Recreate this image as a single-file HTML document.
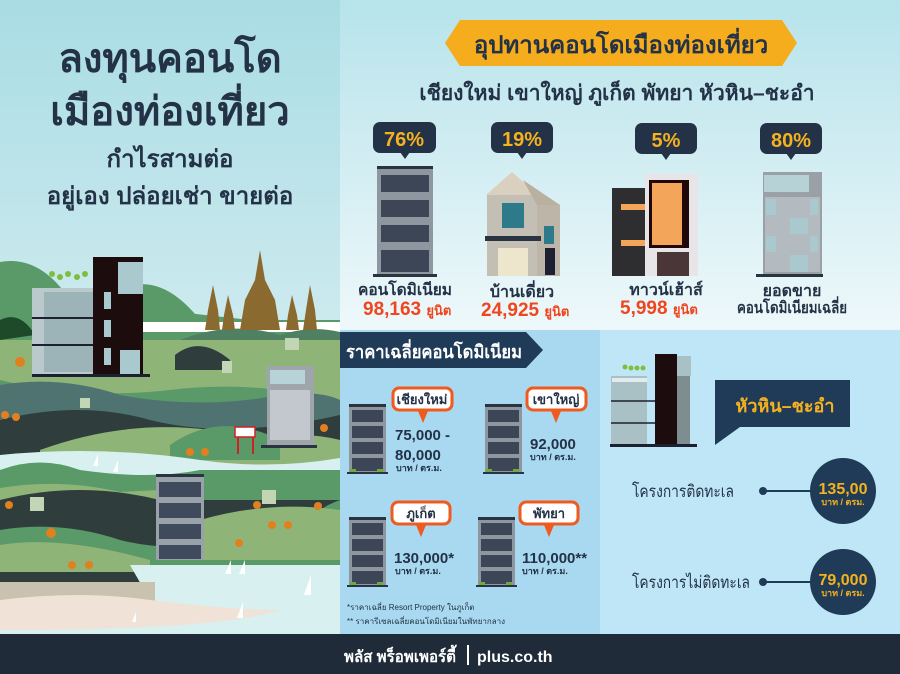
<!DOCTYPE html>
<html><head><meta charset="utf-8"><style>
html,body{margin:0;padding:0;width:900px;height:674px;overflow:hidden}
svg{display:block}
text{font-family:"Liberation Sans","DejaVu Sans",sans-serif;font-weight:bold}
</style></head><body>
<svg width="900" height="674" viewBox="0 0 900 674" xmlns="http://www.w3.org/2000/svg">
<defs>
<linearGradient id="gl" x1="0" y1="0" x2="0" y2="1"><stop offset="0" stop-color="#a9dce4"/><stop offset="1" stop-color="#eef8f9"/></linearGradient>
<linearGradient id="gr" x1="0" y1="0" x2="0" y2="1"><stop offset="0" stop-color="#b7e3eb"/><stop offset="1" stop-color="#eef8fa"/></linearGradient>
<g id="condo">
<rect x="0" y="0" width="37" height="70" fill="#8e969f"/><rect x="0" y="0" width="37" height="3" fill="#2a3440"/>
<rect x="3" y="6" width="31" height="12" fill="#3c4657"/><rect x="3" y="22" width="31" height="12" fill="#3c4657"/>
<rect x="3" y="38" width="31" height="12" fill="#3c4657"/><rect x="3" y="54" width="31" height="13" fill="#3c4657"/>
<rect x="-2" y="68" width="41" height="2" fill="#2a3440"/><rect x="1" y="65" width="6" height="3" fill="#6cab3c"/><rect x="28" y="65" width="6" height="3" fill="#6cab3c"/>
</g>
</defs>
<rect x="0" y="0" width="340" height="634" fill="url(#gl)"/>
<rect x="340" y="0" width="560" height="330" fill="url(#gr)"/>
<rect x="340" y="330" width="260" height="304" fill="#a8d9f0"/>
<rect x="600" y="330" width="300" height="304" fill="#bfe6f6"/>
<rect x="0" y="634" width="900" height="40" fill="#1f2b39"/>

<g fill="#233246" text-anchor="middle">
<text x="170" y="72" font-size="40">ลงทุนคอนโด</text>
<text x="170" y="125" font-size="40">เมืองท่องเที่ยว</text>
<text x="170" y="167" font-size="24">กำไรสามต่อ</text>
<text x="170" y="204" font-size="24">อยู่เอง ปล่อยเช่า ขายต่อ</text>
</g>

<g>
<path d="M0 262 Q40 255 70 300 L340 330 L340 634 L0 634Z" fill="#5a9a68"/>
<path d="M120 290 Q160 270 200 320 L340 320 L340 634 L0 634 L0 300Z" fill="#5a9a68"/>
<path d="M0 320 Q20 310 35 335 L0 340Z" fill="#1e4a2a"/>
<rect x="140" y="322" width="200" height="10" fill="#fff"/>
<path d="M180 340 Q230 320 280 335 Q310 325 340 332 L340 380 L180 380Z" fill="#4f8062"/>
<path d="M0 340 L340 340 L340 400 Q250 380 170 390 Q80 400 0 380Z" fill="#8fb478"/>
<path d="M175 355 Q200 335 230 360 L230 370 L175 370Z" fill="#2f3d3c"/>
<path d="M0 385 Q60 375 120 395 Q200 410 280 395 Q320 390 340 400 L340 440 L0 440Z" fill="#4f7370"/>
<path d="M0 420 Q80 400 150 420 Q230 440 340 415 L340 460 L0 460Z" fill="#2f3d3c"/>
<path d="M40 450 Q150 410 260 440 Q300 430 340 440 L340 470 L40 470Z" fill="#8fb478"/>
<path d="M170 445 Q220 410 280 440 L280 460 L170 460Z" fill="#5a9a68"/>
<path d="M0 455 Q100 445 200 460 Q270 470 340 458 L340 480 L0 480Z" fill="#d8f0f0"/>
<path d="M0 470 Q40 455 80 470 Q150 480 200 470 L340 470 L340 634 L0 634Z" fill="#5a9a68"/>
<path d="M0 488 Q60 478 120 492 L160 490 L160 540 L0 540Z" fill="#8fb478"/>
<path d="M0 500 Q80 480 160 500 L340 500 Q300 515 340 520 L340 550 L0 550Z" fill="#2f3d3c"/>
<path d="M200 520 Q270 500 340 510 L340 560 L200 560Z" fill="#8fb478"/>
<path d="M0 530 Q60 520 120 540 Q160 550 200 545 L200 560 L0 570Z" fill="#5a9a68"/>
<path d="M0 545 Q60 535 150 560 L150 575 L0 575Z" fill="#8fb478"/>
<path d="M0 572 L150 572 L150 584 L0 584Z" fill="#2f3d3c"/>
<path d="M130 565 L340 565 L340 634 L0 634 L0 600 Q80 590 150 600Z" fill="#d8f0f0"/>
<path d="M0 582 L155 582 L155 605 Q80 600 0 612Z" fill="#c8c2ae"/>
<path d="M0 600 Q80 590 150 600 Q230 610 280 610 Q220 630 0 630Z" fill="#f0e2d6"/>
<path d="M260 250 L265 280 L275 300 L280 330 L240 330 L245 300 L255 280Z" fill="#8b6a2f"/>
<path d="M213 285 L218 310 L220 330 L205 330 L208 310Z" fill="#8b6a2f"/>
<path d="M228 295 L233 315 L235 330 L222 330 L224 315Z" fill="#8b6a2f"/>
<path d="M292 295 L297 315 L299 330 L286 330 L288 315Z" fill="#8b6a2f"/>
<path d="M310 285 L315 310 L317 330 L303 330 L306 310Z" fill="#8b6a2f"/>
<rect x="32" y="288" width="62" height="86" fill="#b9c9cc"/>
<rect x="44" y="292" width="50" height="80" fill="#9cb4b8"/>
<g stroke="#1c2030" stroke-width="2"><line x1="32" y1="318" x2="94" y2="318"/><line x1="32" y1="345" x2="94" y2="345"/></g>
<rect x="93" y="257" width="50" height="117" fill="#1c0c0e"/>
<rect x="118" y="262" width="25" height="32" fill="#a9c9cf"/>
<rect x="104" y="292" width="7" height="17" fill="#a9c9cf"/><rect x="104" y="320" width="7" height="17" fill="#a9c9cf"/><rect x="104" y="348" width="7" height="17" fill="#a9c9cf"/>
<rect x="120" y="350" width="20" height="24" fill="#a9c9cf"/>
<rect x="32" y="374" width="118" height="3" fill="#1c2030"/>
<g fill="#7cbf3c"><circle cx="52" cy="274" r="3"/><circle cx="60" cy="277" r="3"/><circle cx="68" cy="274" r="3"/><circle cx="77" cy="277" r="3"/><circle cx="85" cy="274" r="3"/></g>
<rect x="267" y="366" width="47" height="80" fill="#9ea5ab"/>
<rect x="270" y="370" width="35" height="14" fill="#b8d3d8"/>
<rect x="270" y="390" width="40" height="50" fill="#c2c8cd"/>
<rect x="261" y="445" width="56" height="3" fill="#2a3440"/>
<rect x="235" y="427" width="20" height="10" fill="#fff" stroke="#c22" stroke-width="1.5"/>
<rect x="237" y="437" width="2" height="17" fill="#c22"/><rect x="252" y="437" width="2" height="17" fill="#c22"/>
<rect x="156" y="474" width="48" height="86" fill="#9aa2a9"/><rect x="156" y="474" width="48" height="3" fill="#2a3440"/>
<rect x="159" y="482" width="42" height="15" fill="#3f4a5c"/><rect x="159" y="503" width="42" height="15" fill="#3f4a5c"/>
<rect x="159" y="524" width="42" height="15" fill="#3f4a5c"/><rect x="159" y="545" width="42" height="14" fill="#3f4a5c"/>
<g fill="#fff"><path d="M98 454 L98 466 L93 466Z"/><path d="M118 460 L118 472 L113 472Z"/><path d="M231 560 L231 574 L225 574Z"/><path d="M245 560 L245 574 L239 574Z"/><path d="M311 575 L311 595 L304 595Z"/><path d="M243 602 L243 618 L237 618Z"/><path d="M136 612 L136 622 L132 622Z"/></g>
<g fill="#e0801e"><circle cx="20" cy="362" r="5"/><circle cx="5" cy="415" r="4"/><circle cx="16" cy="417" r="4"/><circle cx="190" cy="452" r="4"/><circle cx="205" cy="452" r="4"/><circle cx="324" cy="428" r="4"/><circle cx="9" cy="505" r="4"/><circle cx="51" cy="533" r="5"/><circle cx="257" cy="505" r="4"/><circle cx="318" cy="506" r="4"/><circle cx="272" cy="525" r="4"/><circle cx="288" cy="525" r="4"/><circle cx="239" cy="543" r="4"/><circle cx="72" cy="565" r="4"/><circle cx="89" cy="565" r="4"/></g>
<g fill="#c2d6b6"><rect x="262" y="490" width="14" height="14"/><rect x="30" y="497" width="14" height="14"/><rect x="285" y="338" width="14" height="12"/><rect x="222" y="361" width="10" height="12"/><rect x="80" y="398" width="10" height="10"/></g>
</g>

<polygon points="445,43 460,20 782,20 797,43 782,66 460,66" fill="#f5ad1e"/>
<text x="621" y="53" font-size="24" fill="#233246" text-anchor="middle">อุปทานคอนโดเมืองท่องเที่ยว</text>
<text x="617" y="100" font-size="21" fill="#233246" text-anchor="middle">เชียงใหม่ เขาใหญ่ ภูเก็ต พัทยา หัวหิน–ชะอำ</text>

<g fill="#233246">
<rect x="373" y="122" width="63" height="31" rx="7"/><polygon points="400,152 410,152 405,159"/>
<rect x="491" y="122" width="62" height="31" rx="7"/><polygon points="517,152 527,152 522,159"/>
<rect x="635" y="123" width="62" height="31" rx="7"/><polygon points="661,153 671,153 666,160"/>
<rect x="760" y="123" width="62" height="31" rx="7"/><polygon points="786,153 796,153 791,160"/>
</g>
<g fill="#f5b21e" font-size="20" text-anchor="middle">
<text x="404" y="146">76%</text><text x="522" y="146">19%</text><text x="666" y="147">5%</text><text x="791" y="147">80%</text>
</g>
<g>
<rect x="377" y="166" width="56" height="110" fill="#8e969f"/><rect x="377" y="166" width="56" height="3" fill="#2a3440"/>
<rect x="381" y="175" width="48" height="17" fill="#3c4657"/><rect x="381" y="200" width="48" height="17" fill="#3c4657"/><rect x="381" y="225" width="48" height="17" fill="#3c4657"/><rect x="381" y="250" width="48" height="22" fill="#3c4657"/>
<rect x="373" y="274" width="64" height="3" fill="#2a3440"/>
<polygon points="486,195 512,172 538,195" fill="#d9d0bf"/><rect x="487" y="195" width="50" height="81" fill="#c4bfb4"/>
<polygon points="523,180 560,205 537,205" fill="#b9b0a0"/><rect x="537" y="205" width="23" height="71" fill="#bdb6a8"/>
<rect x="502" y="203" width="22" height="25" fill="#2d7b8a"/><rect x="485" y="236" width="56" height="5" fill="#2a3440"/>
<rect x="498" y="248" width="30" height="28" fill="#eee6cc"/><rect x="544" y="226" width="10" height="18" fill="#2d7b8a"/><rect x="545" y="248" width="10" height="27" fill="#1c2030"/>
<rect x="612" y="188" width="42" height="88" fill="#2e2e30"/><rect x="621" y="204" width="24" height="6" fill="#f3a65a"/><rect x="621" y="240" width="24" height="6" fill="#f3a65a"/>
<rect x="645" y="174" width="53" height="102" fill="#e8e5e8"/><rect x="649" y="180" width="40" height="68" fill="#200808"/>
<rect x="652" y="183" width="30" height="62" fill="#f3a65a"/><rect x="657" y="252" width="32" height="24" fill="#4a3636"/>
<rect x="763" y="172" width="59" height="104" fill="#9aa1a6"/><rect x="764" y="175" width="45" height="17" fill="#b7d2d7"/>
<rect x="765" y="197" width="55" height="75" fill="#b4bbc0"/>
<g fill="#a9c9cf"><rect x="766" y="199" width="10" height="16"/><rect x="810" y="199" width="8" height="16"/><rect x="790" y="218" width="18" height="16"/><rect x="766" y="236" width="10" height="16"/><rect x="810" y="236" width="8" height="16"/><rect x="790" y="255" width="18" height="17"/></g>
<rect x="756" y="274" width="67" height="3" fill="#2a3440"/>
</g>
<g font-size="16" text-anchor="middle" fill="#233246">
<text x="405" y="295" textLength="94" lengthAdjust="spacingAndGlyphs">คอนโดมิเนียม</text><text x="522" y="297">บ้านเดี่ยว</text><text x="666" y="295">ทาวน์เฮ้าส์</text>
<text x="792" y="296">ยอดขาย</text><text x="792" y="313" textLength="110" lengthAdjust="spacingAndGlyphs">คอนโดมิเนียมเฉลี่ย</text>
</g>
<g fill="#f0451e" font-size="19">
<text x="363" y="315">98,163 <tspan font-size="13">ยูนิต</tspan></text>
<text x="481" y="316">24,925 <tspan font-size="13">ยูนิต</tspan></text>
<text x="620" y="314">5,998 <tspan font-size="13">ยูนิต</tspan></text>
</g>

<polygon points="340,332 526,332 543,350 526,368 340,368" fill="#1f3b57"/>
<text x="346" y="358" font-size="18" fill="#fff" textLength="176" lengthAdjust="spacingAndGlyphs">ราคาเฉลี่ยคอนโดมิเนียม</text>
<use href="#condo" x="349" y="404"/><use href="#condo" x="485" y="404"/><use href="#condo" x="349" y="517"/><use href="#condo" x="478" y="517"/>
<g fill="#fff" stroke="#ef5a1e" stroke-width="3">
<rect x="393" y="388" width="59" height="22" rx="6"/><rect x="527" y="388" width="59" height="22" rx="6"/>
<rect x="392" y="502" width="58" height="22" rx="6"/><rect x="520" y="502" width="58" height="22" rx="6"/>
</g>
<g fill="#ef5a1e"><polygon points="418,411 428,411 423,423"/><polygon points="551,411 561,411 556,423"/><polygon points="416,525 426,525 421,537"/><polygon points="544,525 554,525 549,537"/></g>
<g font-size="13" fill="#233246" text-anchor="middle">
<text x="422" y="404">เชียงใหม่</text><text x="556" y="404">เขาใหญ่</text><text x="421" y="518">ภูเก็ต</text><text x="549" y="518">พัทยา</text>
</g>
<g fill="#233246" font-size="15">
<text x="395" y="440">75,000 -</text><text x="395" y="460">80,000</text>
<text x="530" y="449">92,000</text>
<text x="394" y="563">130,000*</text><text x="522" y="563">110,000**</text>
</g>
<g fill="#233246" font-size="9">
<text x="396" y="471">บาท / ตร.ม.</text><text x="530" y="460">บาท / ตร.ม.</text>
<text x="395" y="574">บาท / ตร.ม.</text><text x="522" y="574">บาท / ตร.ม.</text>
</g>
<g fill="#233246" font-size="8">
<text x="347" y="610" style="font-weight:normal">*ราคาเฉลี่ย Resort Property ในภูเก็ต</text>
<text x="347" y="624" style="font-weight:normal">** ราคารีเซลเฉลี่ยคอนโดมิเนียมในพัทยากลาง</text>
</g>

<rect x="611" y="376" width="36" height="68" fill="#a9c0c4"/>
<rect x="612" y="378" width="35" height="4" fill="#e2ecee"/>
<g stroke="#1c2030" stroke-width="1.5"><line x1="611" y1="401" x2="655" y2="401"/><line x1="611" y1="423" x2="655" y2="423"/></g>
<g fill="#7cbf3c"><circle cx="625" cy="367" r="2.5"/><circle cx="631" cy="368" r="2.5"/><circle cx="637" cy="368" r="2.5"/><circle cx="643" cy="368" r="2.5"/></g>
<rect x="655" y="354" width="22" height="91" fill="#1c0c0e"/><rect x="677" y="356" width="14" height="20" fill="#a9c0c4"/>
<rect x="677" y="376" width="13" height="69" fill="#7d8d90"/>
<rect x="610" y="444" width="87" height="3" fill="#1c2030"/>
<polygon points="715,380 850,380 850,427 740,427 715,445" fill="#1f3b57"/>
<text x="785" y="412" font-size="18" fill="#f5b21e" text-anchor="middle">หัวหิน–ชะอำ</text>
<g fill="#233246" font-size="17">
<text x="632" y="497" style="font-weight:normal" textLength="102" lengthAdjust="spacingAndGlyphs">โครงการติดทะเล</text>
<text x="632" y="588" style="font-weight:normal" textLength="118" lengthAdjust="spacingAndGlyphs">โครงการไม่ติดทะเล</text>
</g>
<g stroke="#1f3b57" stroke-width="2"><line x1="763" y1="491" x2="812" y2="491"/><line x1="763" y1="582" x2="812" y2="582"/></g>
<g fill="#1f3b57"><circle cx="763" cy="491" r="4"/><circle cx="763" cy="582" r="4"/><circle cx="843" cy="491" r="33"/><circle cx="843" cy="582" r="33"/></g>
<g fill="#f5b21e" text-anchor="middle">
<text x="843" y="494" font-size="16">135,00</text><text x="843" y="505" font-size="9">บาท / ตรม.</text>
<text x="843" y="585" font-size="16">79,000</text><text x="843" y="596" font-size="9">บาท / ตรม.</text>
</g>

<text x="344" y="662" font-size="16" fill="#fff" textLength="112" lengthAdjust="spacingAndGlyphs">พลัส พร็อพเพอร์ตี้</text>
<rect x="467" y="645" width="2" height="20" fill="#fff"/>
<text x="477" y="662" font-size="16" fill="#fff">plus.co.th</text>
</svg>
</body></html>
